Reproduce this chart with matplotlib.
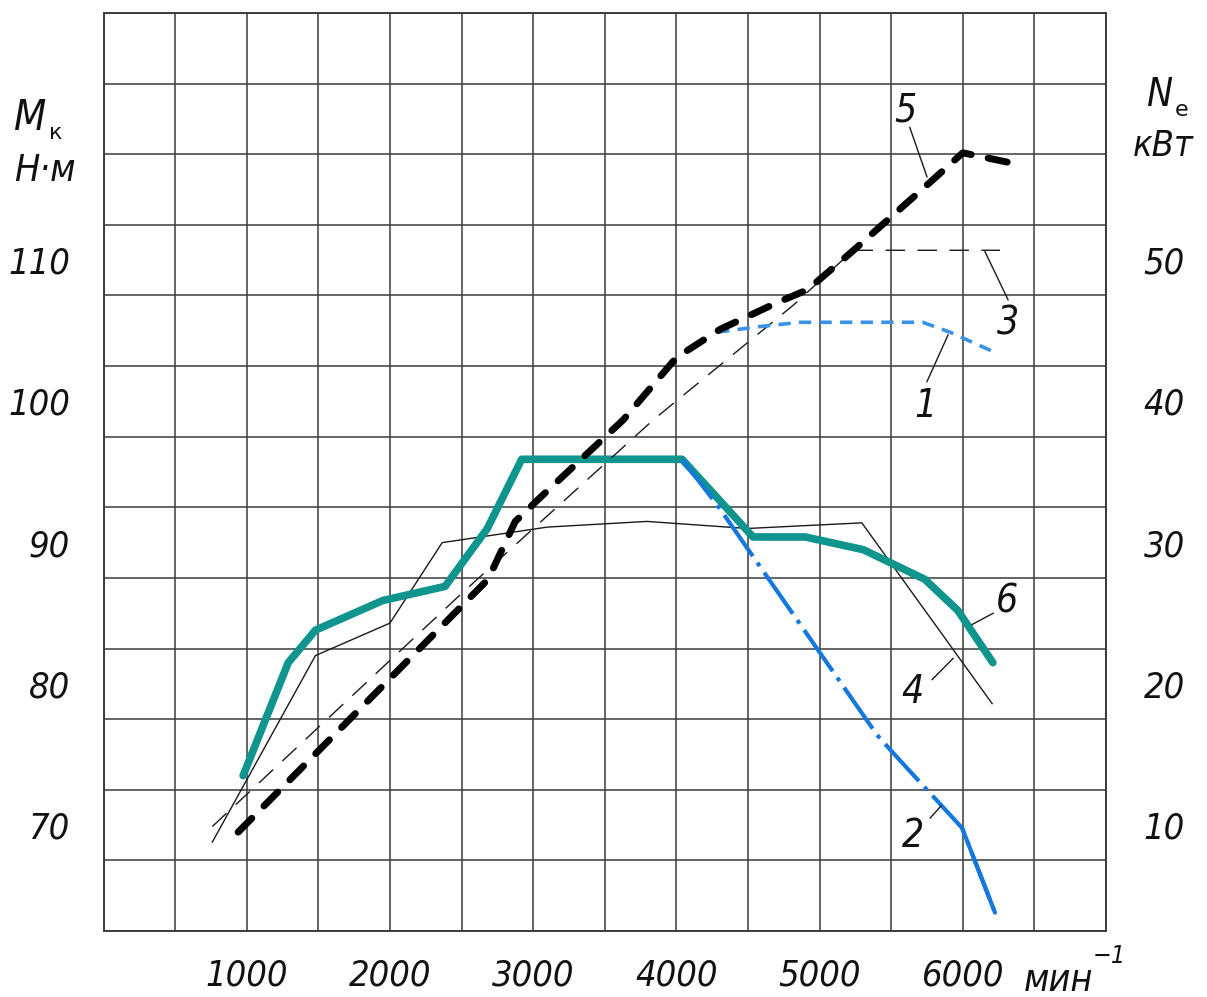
import matplotlib
matplotlib.use("Agg")
import matplotlib.pyplot as plt
from matplotlib.ticker import MultipleLocator

W, H = 1207, 997
FONT = ["DejaVu Sans"]

# внешняя скоростная характеристика: частота вращения, мин^-1
# кривая 6 - крутящий момент, Н·м
rpm6 = [975, 1290, 1480, 1950, 2385, 2680, 2920, 4040, 4535, 4900, 5305, 5735, 5965, 6210]
torque6 = [73.5, 81.5, 83.8, 85.9, 86.9, 91.0, 95.9, 95.9, 90.4, 90.4, 89.5, 87.4, 85.2, 81.5]

# кривая 4 - крутящий момент (тонкая)
rpm4 = [760, 1480, 2000, 2365, 3100, 3795, 4495, 5295, 6205]
torque4 = [68.8, 82.0, 84.3, 90.0, 91.1, 91.5, 91.0, 91.4, 78.6]

# кривая 2 - крутящий момент на ограничении
rpm2 = [4040, 4290, 5400, 5505, 5995, 6225]
torque2 = [95.9, 92.6, 76.4, 75.2, 69.8, 63.8]

# кривая 5 - мощность, кВт
rpm5 = [940, 2685, 2875, 3050, 3630, 4000, 4305, 4705, 4915, 5215, 5770, 6000, 6330]
power5 = [9.5, 27.4, 31.5, 33.2, 38.7, 43.1, 45.1, 47.0, 47.9, 50.5, 55.5, 57.6, 56.9]

# кривая 3 - мощность (тонкая штриховая)
rpm3 = [760, 2490, 3840, 4815, 5235, 6260]
power3 = [9.9, 26.3, 38.7, 46.8, 50.7, 50.7]

# кривая 1 - мощность на ограничении
rpm1 = [4285, 4585, 4865, 5720, 5910, 6240]
power1 = [44.9, 45.3, 45.6, 45.6, 44.9, 43.4]

x_ticks = [1000, 2000, 3000, 4000, 5000, 6000]
torque_ticks = [70, 80, 90, 100, 110]
power_ticks = [10, 20, 30, 40, 50]

grid_color = "#3a3a3a"
txt = dict(family=FONT, style="italic", stretch="condensed", color="#111111")

fig = plt.figure(figsize=(W / 100, H / 100), dpi=100)
ax = fig.add_axes([103.5 / W, 1 - 931 / H, (1106 - 103.5) / W, (931 - 13) / H])
ax2 = ax.twinx()

ax.set_xlim(0, 7000)
ax.set_ylim(62.5, 127.5)
ax2.set_ylim(2.5, 67.5)

ax.set_xticks(x_ticks)
ax.xaxis.set_minor_locator(MultipleLocator(500))
ax.set_yticks(torque_ticks)
ax.set_yticks([62.5 + 5 * i for i in range(14)], minor=True)
ax2.set_yticks(power_ticks)

ax.grid(which="both", axis="x", color=grid_color, lw=1.1)
ax.grid(which="minor", axis="y", color=grid_color, lw=1.1)
ax.set_axisbelow(True)
ax.tick_params(which="both", length=0)
ax2.tick_params(which="both", length=0)
ax.tick_params(axis="x", pad=20)
ax.tick_params(axis="y", pad=24)
ax2.tick_params(axis="y", pad=27)

for a in (ax, ax2):
    for s in a.spines.values():
        s.set_color(grid_color)
        s.set_linewidth(1.1)

for lbl in ax.get_xticklabels() + ax.get_yticklabels() + ax2.get_yticklabels():
    lbl.set_fontfamily(FONT)
    lbl.set_fontstyle("italic")
    lbl.set_fontstretch("condensed")
    lbl.set_fontsize(26)
    lbl.set_color("#111111")

# тонкие линии
ax.plot(rpm4, torque4, color="#1a1a1a", lw=1.0, zorder=3)
ax2.plot(rpm3, power3, color="#1a1a1a", lw=1.0, dashes=(14, 9), zorder=3)

# момент
ax.plot(rpm6, torque6, color="#0f948e", lw=5.5, solid_capstyle="round",
        solid_joinstyle="round", zorder=4)
ax.plot(rpm2, torque2, color="#1478dc", lw=3, dashes=(12, 1.9, 1, 1.9),
        solid_joinstyle="round", zorder=5)
ax.plot(rpm2[-2:], torque2[-2:], color="#1478dc", lw=3,
        solid_capstyle="round", zorder=5)

# мощность
ax2.plot(rpm1, power1, color="#3a92e6", lw=2.6, dashes=(3.4, 2.3), zorder=5)
ax2.plot(rpm5, power5, color="black", lw=5, dashes=(2.8, 2.5),
         dash_capstyle="round", dash_joinstyle="round", zorder=6)

# выноски с номерами кривых
callouts = [
    ("5", (5600, 120.6), [(5630, 119.4), (5750, 115.9)]),
    ("3", (6316, 105.5), [(6155, 110.6), (6316, 107.2)]),
    ("1", (5736, 99.7), [(5897, 104.7), (5750, 101.4)]),
    ("6", (6309, 85.8), [(6065, 84.2), (6212, 85.0)]),
    ("4", (5646, 79.4), [(5786, 80.3), (5932, 81.8)]),
    ("2", (5653, 69.2), [(5772, 70.5), (5848, 71.35)]),
]
for num, (tx, ty), seg in callouts:
    ax.plot([p[0] for p in seg], [p[1] for p in seg], color="#1a1a1a", lw=1.0, zorder=7)
    ax.text(tx, ty, num, fontsize=28, ha="center", va="center", zorder=7, **txt)

# обозначения осей
fig.text(14 / W, 1 - 130 / H, "M", fontsize=30, **txt)
fig.text(49 / W, 1 - 139 / H, "к", fontsize=16, family=FONT, color="#111111")
fig.text(14 / W, 1 - 181 / H, "Н·м", fontsize=27, **txt)

fig.text(1146 / W, 1 - 106 / H, "N", fontsize=28, **txt)
fig.text(1175 / W, 1 - 116 / H, "e", fontsize=16, family=FONT, color="#111111")
fig.text(1133 / W, 1 - 156 / H, "кВт", fontsize=26, **txt)

fig.text(1024 / W, 1 - 991 / H, "мин", fontsize=27, **txt)
fig.text(1093 / W, 1 - 963 / H, "−1", fontsize=18, **txt)

fig.savefig("out.png", dpi=100, facecolor="white")
